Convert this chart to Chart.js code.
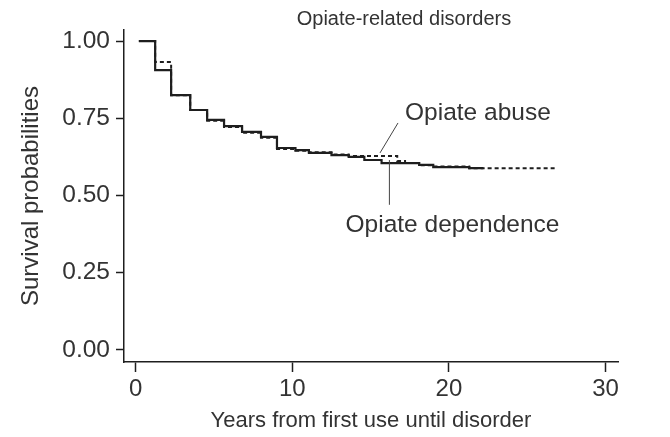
<!DOCTYPE html>
<html>
<head>
<meta charset="utf-8">
<script src="https://cdn.jsdelivr.net/npm/chart.js@4/dist/chart.umd.min.js"></script>
<style>
  html, body { margin: 0; padding: 0; background: #fff; }
  #wrap { width: 670px; height: 437px; }
</style>
</head>
<body>
<div id="wrap"><canvas id="survChart"></canvas></div>
<script>
// Kaplan-Meier steps (years, survival)
const depYears = [0.2, 1.24, 2.26, 3.48, 4.56, 5.64, 6.79, 8.0, 9.02, 10.2,
  11.06, 12.5, 13.6, 14.6, 15.7, 18.1, 19.0, 21.3, 22.2];
const depSurv = [1.0, 0.906, 0.825, 0.777, 0.745, 0.725, 0.706, 0.690, 0.654,
  0.647, 0.638, 0.631, 0.625, 0.615, 0.605, 0.599, 0.592, 0.589, 0.589];

const abuseYears = [0.2, 1.24, 2.26, 3.48, 4.56, 5.64, 6.79, 8.0, 9.02, 10.2,
  11.06, 12.5, 13.6, 16.7, 17.2, 18.1, 19.0, 21.3, 26.8];
const abuseSurv = [1.0, 0.932, 0.825, 0.777, 0.742, 0.722, 0.703, 0.687, 0.651,
  0.645, 0.640, 0.633, 0.628, 0.612, 0.605, 0.598, 0.594, 0.588, 0.586];

const xTicks = [0, 10, 20, 30];
const yTicks = [0, 0.25, 0.5, 0.75, 1];

const toPoints = (xs, ys) => xs.map((x, i) => ({x: x, y: ys[i]}));

const ink = '#1e1e1e';
const textCol = '#333';
const font = 'Liberation Sans, Arial, sans-serif';

// Title and the two labels with their leader lines
const labels = {
  id: 'labels',
  afterDraw(chart) {
    const {ctx, scales: {x, y}} = chart;
    ctx.save();
    ctx.fillStyle = textCol;
    ctx.textBaseline = 'middle';

    ctx.font = '20px ' + font;
    ctx.textAlign = 'center';
    ctx.fillText('Opiate-related disorders', 404, 19);

    ctx.font = '24.5px ' + font;
    ctx.textAlign = 'left';
    ctx.fillText('Opiate abuse', x.getPixelForValue(17.2), y.getPixelForValue(0.767));
    ctx.fillText('Opiate dependence', x.getPixelForValue(13.4), y.getPixelForValue(0.405));

    ctx.strokeStyle = '#444';
    ctx.lineWidth = 1;
    ctx.beginPath();
    ctx.moveTo(x.getPixelForValue(15.6), y.getPixelForValue(0.638));
    ctx.lineTo(x.getPixelForValue(16.75), y.getPixelForValue(0.735));
    ctx.moveTo(x.getPixelForValue(16.2), y.getPixelForValue(0.615));
    ctx.lineTo(x.getPixelForValue(16.2), y.getPixelForValue(0.47));
    ctx.stroke();
    ctx.restore();
  }
};

new Chart(document.getElementById('survChart').getContext('2d'), {
  type: 'line',
  data: {
    datasets: [{
      label: 'Opiate dependence',
      data: toPoints(depYears, depSurv),
      stepped: 'before',
      borderColor: ink,
      borderWidth: 2.2,
      pointRadius: 0,
      fill: false
    }, {
      label: 'Opiate abuse',
      data: toPoints(abuseYears, abuseSurv),
      stepped: 'before',
      borderColor: ink,
      borderWidth: 2,
      borderDash: [4, 3],
      pointRadius: 0,
      fill: false
    }]
  },
  options: {
    responsive: true,
    maintainAspectRatio: false,
    animation: false,
    layout: {padding: {left: 0, right: 52, top: 30, bottom: 0}},
    plugins: {legend: {display: false}, tooltip: {enabled: false}},
    scales: {
      x: {
        type: 'linear',
        min: -0.75,
        max: 30.8,
        afterBuildTicks: axis => { axis.ticks = xTicks.map(v => ({value: v})); },
        afterFit: axis => { axis.height = 75; },
        grid: {drawOnChartArea: false, tickLength: 10, color: ink, tickWidth: 1.5},
        border: {color: ink, width: 1.5},
        ticks: {color: textCol, font: {family: font, size: 24}, padding: 3},
        title: {
          display: true,
          text: 'Years from first use until disorder',
          color: textCol,
          font: {family: font, size: 22},
          padding: {top: 0, bottom: 3}
        }
      },
      y: {
        min: -0.039,
        max: 1.036,
        afterBuildTicks: axis => { axis.ticks = yTicks.map(v => ({value: v})); },
        afterFit: axis => { axis.width = 124; },
        grid: {drawOnChartArea: false, tickLength: 8, color: ink, tickWidth: 1.5},
        border: {color: ink, width: 1.5},
        ticks: {
          color: textCol,
          font: {family: font, size: 24.5},
          padding: 6,
          callback: v => v.toFixed(2)
        },
        title: {
          display: true,
          text: 'Survival probabilities',
          color: textCol,
          font: {family: font, size: 24},
          padding: {top: 17, bottom: 0}
        }
      }
    }
  },
  plugins: [labels]
});
</script>
</body>
</html>
